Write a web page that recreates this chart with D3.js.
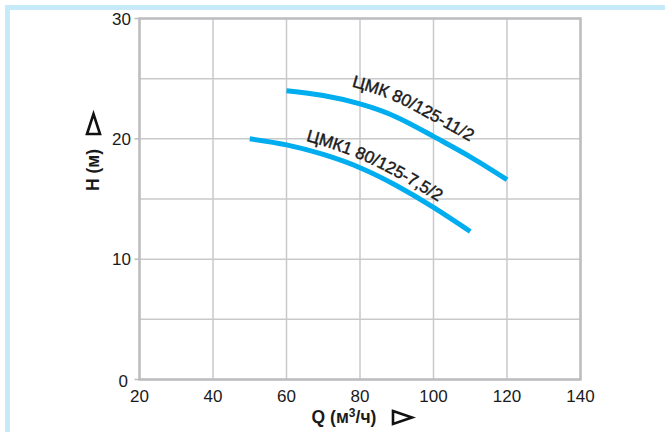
<!DOCTYPE html>
<html>
<head>
<meta charset="utf-8">
<script src="https://cdn.jsdelivr.net/npm/d3@7"></script>
<style>
  html, body { margin: 0; padding: 0; background: #fff; }
  svg { display: block; }
  text { font-family: "Liberation Sans", Arial, Helvetica, sans-serif; }
</style>
</head>
<body>
<svg id="chart" width="665" height="432"></svg>
<script>
// ---- data ----
const xTicks = [20, 40, 60, 80, 100, 120, 140];
const yTicks = [0, 10, 20, 30];
const yGrid = [0, 5, 10, 15, 20, 25, 30];

const seriesNames = ["ЦМК 80/125-11/2", "ЦМК1 80/125-7,5/2"];
const q1 = [60, 70, 80, 90, 100, 110, 120];
const h1 = [24.0, 23.6, 22.9, 21.8, 20.2, 18.5, 16.6];
const q2 = [50, 60, 70, 80, 90, 100, 110];
const h2 = [20.0, 19.5, 18.7, 17.6, 16.1, 14.3, 12.3];

const xTitle = "Q (м³/ч)";
const yTitle = "H (м)";

// ---- layout ----
const svg = d3.select("#chart");
const x = d3.scaleLinear().domain([20, 140]).range([139.5, 580.5]);
const y = d3.scaleLinear().domain([0, 30]).range([379.5, 18.5]);

// light blue frame (top + left band)
svg.append("rect").attr("x", 5).attr("y", 5).attr("width", 660).attr("height", 5).attr("fill", "#c6eaf8");
svg.append("rect").attr("x", 5).attr("y", 5).attr("width", 5).attr("height", 427).attr("fill", "#c6eaf8");

// grid
const g = svg.append("g");
g.selectAll("line.v").data(xTicks).join("line")
  .attr("x1", d => x(d)).attr("x2", d => x(d))
  .attr("y1", y(0)).attr("y2", y(30))
  .attr("stroke", "#c9c9cb").attr("stroke-width", 1.5);
g.selectAll("line.h").data(yGrid).join("line")
  .attr("x1", x(20)).attr("x2", x(140))
  .attr("y1", d => y(d)).attr("y2", d => y(d))
  .attr("stroke", "#c9c9cb").attr("stroke-width", 1.5);
// y tick marks outward
g.selectAll("line.t").data(yTicks).join("line")
  .attr("x1", x(20) - 5).attr("x2", x(20))
  .attr("y1", d => y(d)).attr("y2", d => y(d))
  .attr("stroke", "#bdbdc0").attr("stroke-width", 1.5);
// border
g.append("rect")
  .attr("x", x(20)).attr("y", y(30))
  .attr("width", x(140) - x(20)).attr("height", y(0) - y(30))
  .attr("fill", "none").attr("stroke", "#bdbdc0").attr("stroke-width", 2.5);

// tick labels
svg.selectAll("text.xt").data(xTicks).join("text")
  .attr("x", d => x(d)).attr("y", 402)
  .attr("text-anchor", "middle").attr("font-size", 17).attr("fill", "#1a1a1a")
  .text(d => d);
svg.selectAll("text.yt").data(yTicks).join("text")
  .attr("x", d => d === 0 ? 128 : 131).attr("y", d => y(d) + (d === 0 ? 7 : 6))
  .attr("text-anchor", "end").attr("font-size", 17).attr("fill", "#1a1a1a")
  .text(d => d);

// axis titles
const xt = svg.append("text").attr("x", 344).attr("y", 423)
  .attr("text-anchor", "middle").attr("font-size", 17.5).attr("font-weight", "bold").attr("fill", "#1a1a1a");
xt.append("tspan").text("Q (м");
xt.append("tspan").attr("dy", -6).attr("font-size", 12).text("3");
xt.append("tspan").attr("dy", 6).text("/ч)");

svg.append("text").attr("transform", "translate(99,170) rotate(-90)")
  .attr("text-anchor", "middle").attr("font-size", 17.5).attr("font-weight", "bold").attr("fill", "#1a1a1a")
  .text(yTitle);

// triangles
svg.append("path").attr("d", "M393,411 L412,417.5 L393,424 Z")
  .attr("fill", "none").attr("stroke", "#111").attr("stroke-width", 2.6).attr("stroke-linejoin", "miter");
svg.append("path").attr("d", "M87,134 L93.5,114 L100,134 Z")
  .attr("fill", "none").attr("stroke", "#111").attr("stroke-width", 2.6).attr("stroke-linejoin", "miter");

// curves
const series = [
  { name: seriesNames[0], q: q1, h: h1, off: 15, start: 66 },
  { name: seriesNames[1], q: q2, h: h2, off: 8.5, start: 57 }
];
const line = d3.line().x(d => x(d[0])).y(d => y(d[1])).curve(d3.curveNatural);
const labelLine = off => d3.line().x(d => x(d[0])).y(d => y(d[1]) - off).curve(d3.curveNatural);

const defs = svg.append("defs");
series.forEach((s, i) => {
  const pts = s.q.map((q, j) => [q, s.h[j]]);
  svg.append("path").attr("d", line(pts))
    .attr("fill", "none").attr("stroke", "#00adee").attr("stroke-width", 5);
  defs.append("path").attr("id", "lp" + i).attr("d", labelLine(s.off)(pts));
  svg.append("text").attr("font-size", 17).attr("fill", "#1a1a1a")
    .attr("stroke", "#1a1a1a").attr("stroke-width", 0.45)
    .append("textPath").attr("href", "#lp" + i).attr("startOffset", s.start)
    .text(s.name);
});
</script>
</body>
</html>
